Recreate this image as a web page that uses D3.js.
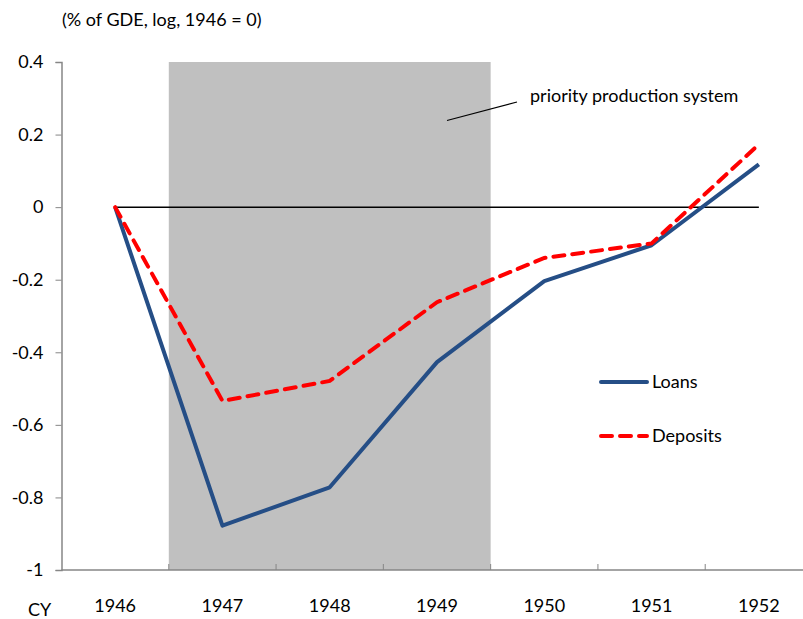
<!DOCTYPE html>
<html>
<head>
<meta charset="utf-8">
<script src="https://cdn.jsdelivr.net/npm/d3@7/dist/d3.min.js"></script>
<style>
  html, body { margin: 0; padding: 0; background: #fff; }
  svg { display: block; }
  text { font-family: Lato, "Open Sans", sans-serif; fill: #000; }
</style>
</head>
<body>
<svg id="chart" width="803" height="619"></svg>
<script>
// chart data
var years = ["1946", "1947", "1948", "1949", "1950", "1951", "1952"];
var loans = [0, -0.878, -0.772, -0.427, -0.204, -0.105, 0.118];
var deposits = [0, -0.534, -0.479, -0.262, -0.14, -0.10, 0.173];
var baseline = [0, 0, 0, 0, 0, 0, 0];
var yTicks = [0.4, 0.2, 0, -0.2, -0.4, -0.6, -0.8, -1];
var shadeFrom = "1947", shadeTo = "1949";

(function() {
var svg = d3.select("#chart");
var fs = 18;
var left = 61.5, right = 812.5, plotTop = 62, plotBottom = 570;

var x = d3.scaleBand().domain(years).range([left, right]);
var y = d3.scaleLinear().domain([-1, 0.4]).range([plotBottom, plotTop]);
var cx = function(d) { return x(d) + x.bandwidth() / 2; };

// shaded period
svg.append("rect")
  .attr("x", x(shadeFrom))
  .attr("y", y(0.4))
  .attr("width", x(shadeTo) + x.bandwidth() - x(shadeFrom))
  .attr("height", y(-1) - y(0.4))
  .attr("fill", "#c0c0c0");

// y axis
var yAxis = d3.axisLeft(y).tickValues(yTicks).tickSize(6).tickPadding(12)
  .tickFormat(function(d) { return d === 0 ? "0" : String(d); });
var gy = svg.append("g").attr("transform", "translate(" + left + ",0)").call(yAxis);
gy.select(".domain").attr("stroke", "#868686").attr("stroke-width", 1.5);
gy.selectAll(".tick line").attr("stroke", "#868686");
gy.selectAll(".tick text").attr("font-size", fs).style("font-family", "Lato, 'Open Sans', sans-serif");

// x axis with ticks between categories
var gx = svg.append("g").attr("transform", "translate(0," + plotBottom + ")");
gx.append("line").attr("x1", left).attr("x2", 803).attr("y1", 0).attr("y2", 0)
  .attr("stroke", "#868686").attr("stroke-width", 1.5);
gx.selectAll("line.tk").data(years.slice(1)).enter().append("line").attr("class", "tk")
  .attr("x1", function(d) { return x(d); }).attr("x2", function(d) { return x(d); })
  .attr("y1", 0).attr("y2", -6).attr("stroke", "#868686");
gx.selectAll("text.lbl").data(years).enter().append("text").attr("class", "lbl")
  .attr("x", cx).attr("y", 42).attr("text-anchor", "middle").attr("font-size", fs)
  .text(function(d) { return d; });
svg.append("text").attr("x", 28).attr("y", 616).attr("font-size", fs).text("CY");

// zero line
var line = d3.line().x(function(d, i) { return cx(years[i]); }).y(function(d) { return y(d); });
svg.append("path").datum(baseline).attr("d", line).attr("fill", "none")
  .attr("stroke", "#000").attr("stroke-width", 1.5);

// series
svg.append("path").datum(loans).attr("d", line).attr("fill", "none")
  .attr("stroke", "#254e86").attr("stroke-width", 4).attr("stroke-linejoin", "round");
svg.append("path").datum(deposits).attr("d", line).attr("fill", "none")
  .attr("stroke", "#ff0000").attr("stroke-width", 4)
  .attr("stroke-dasharray", "11,8").attr("stroke-linecap", "round");

// title
svg.append("text").attr("x", 62).attr("y", 26).attr("font-size", fs).text("(% of GDE, log, 1946 = 0)");

// annotation
svg.append("line").attr("x1", 447).attr("y1", 120.5).attr("x2", 517).attr("y2", 102)
  .attr("stroke", "#000").attr("stroke-width", 1.2);
svg.append("text").attr("x", 530).attr("y", 102).attr("font-size", fs).text("priority production system");

// legend
var legend = [
  { name: "Loans", color: "#254e86", dash: null, y: 382 },
  { name: "Deposits", color: "#ff0000", dash: "11,8", y: 436 }
];
var lg = svg.selectAll("g.legend").data(legend).enter().append("g").attr("class", "legend");
lg.append("line").attr("x1", 601).attr("x2", 647)
  .attr("y1", function(d) { return d.y; }).attr("y2", function(d) { return d.y; })
  .attr("stroke", function(d) { return d.color; }).attr("stroke-width", 4)
  .attr("stroke-dasharray", function(d) { return d.dash; })
  .attr("stroke-linecap", "round");
lg.append("text").attr("x", 652).attr("y", function(d) { return d.y + 6; }).attr("font-size", fs)
  .text(function(d) { return d.name; });
})();
</script>
</body>
</html>
